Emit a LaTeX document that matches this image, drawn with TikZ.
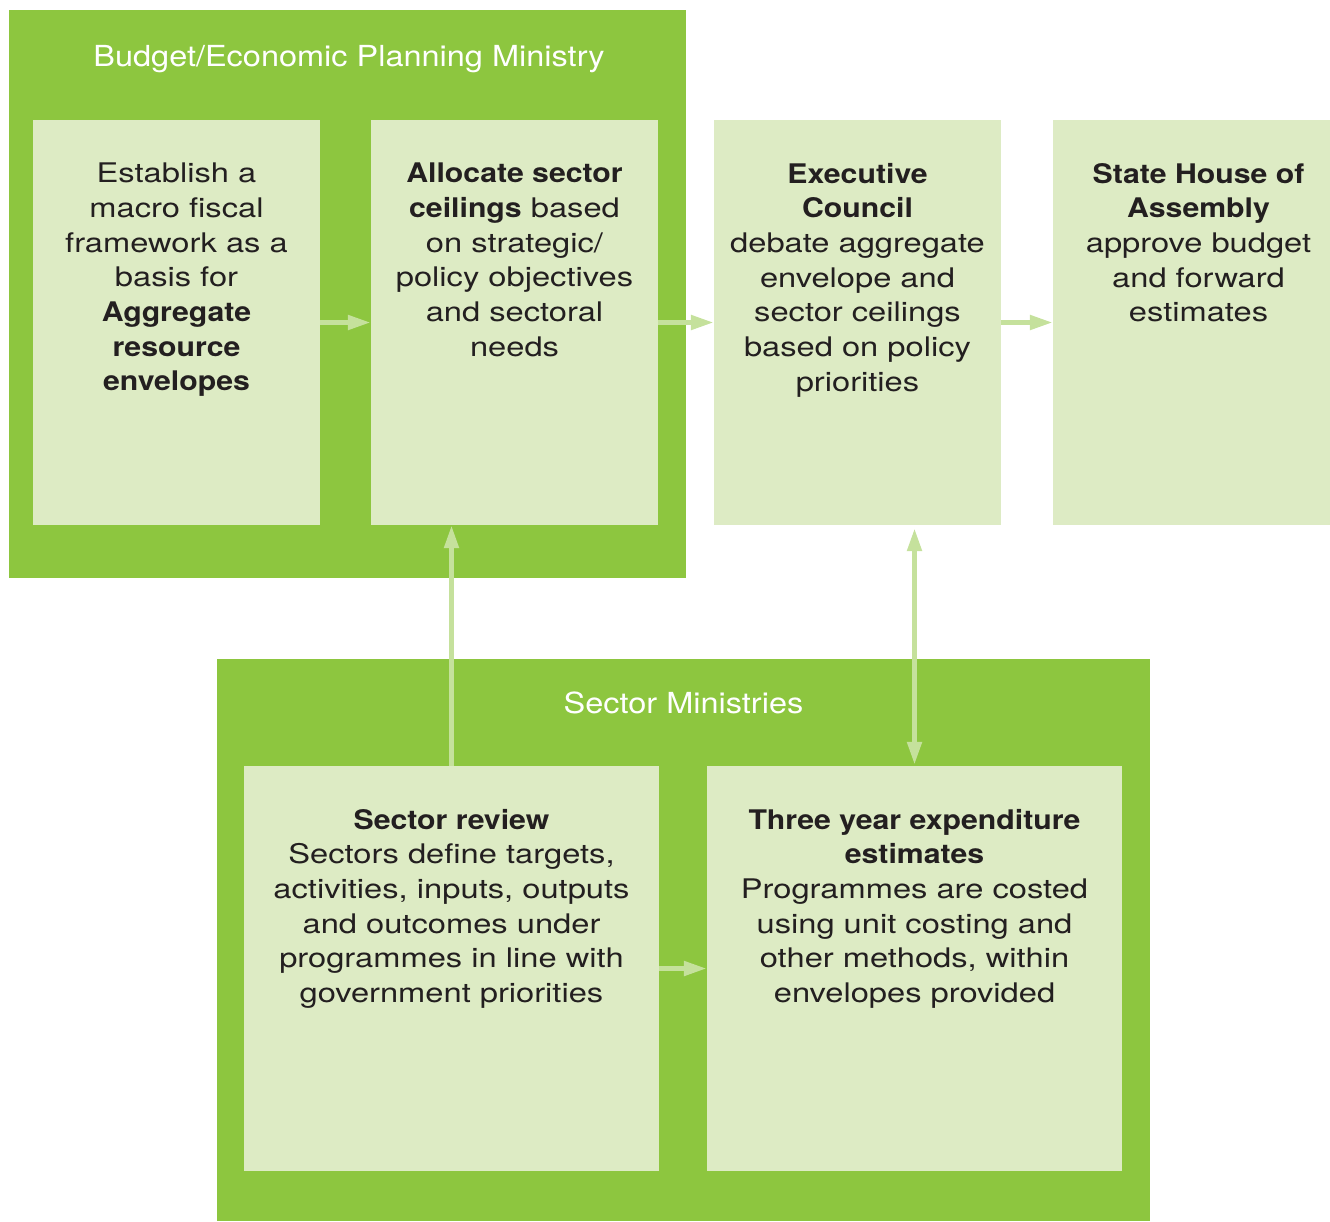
\documentclass[tikz,border=0pt]{standalone}
\usepackage{fontspec}
\setmainfont{TeX Gyre Heros}[FakeStretch=1.12]
\newfontfamily\bodyfont{TeX Gyre Heros}[FakeStretch=1.21,BoldFeatures={FakeStretch=1.12}]
\usetikzlibrary{arrows.meta,calc}
\definecolor{dgreen}{HTML}{8DC63F}
\definecolor{lgreen}{HTML}{DDEBC4}
\definecolor{agreen}{HTML}{C5E19C}
\definecolor{txt}{HTML}{231F20}
\begin{document}
\begin{tikzpicture}[x=1pt,y=-1pt,
  panel/.style={fill=dgreen,draw=none},
  card/.style={fill=lgreen,draw=none},
  cardtext/.style={anchor=north,inner sep=0pt,align=center,text=txt,font=\bodyfont\fontsize{27}{34.7}\selectfont},
  titletext/.style={inner sep=0pt,text=white,font=\fontsize{29}{35}\selectfont},
  flow/.style={draw=agreen,line width=5pt,-{Triangle[length=23pt,width=14pt]}},
  flowboth/.style={draw=agreen,line width=5pt,{Triangle[length=23pt,width=14pt]}-{Triangle[length=23pt,width=14pt]}}
]
\useasboundingbox (0,0) rectangle (1330,1221);
% panels
\fill[panel] (9,10) rectangle (686,578);
\fill[panel] (217,659) rectangle (1150,1221);
\node[titletext] (t1) at (349,59) {Budget/Economic Planning Ministry};
\node[titletext] (t2) at (683.5,703) {Sector Ministries};
% cards
\path[card] (33,120) rectangle (320,525);
\node[inner sep=0pt,minimum width=287pt,minimum height=405pt] (A) at (176.5,322.5) {};
\path[card] (371,120) rectangle (658,525);
\node[inner sep=0pt,minimum width=287pt,minimum height=405pt] (B) at (514.5,322.5) {};
\path[card] (714,120) rectangle (1001,525);
\node[inner sep=0pt,minimum width=287pt,minimum height=405pt] (C) at (857.5,322.5) {};
\path[card] (1053,120) rectangle (1330,525);
\node[inner sep=0pt,minimum width=277pt,minimum height=405pt] (D) at (1191.5,322.5) {};
\path[card] (244,766) rectangle (659,1171);
\node[inner sep=0pt,minimum width=415pt,minimum height=405pt] (E) at (451.5,968.5) {};
\path[card] (707,766) rectangle (1122,1171);
\node[inner sep=0pt,minimum width=415pt,minimum height=405pt] (F) at (914.5,968.5) {};
% texts
\node[cardtext] (At) at ($(A.north)+(0,43)$) {Establish a\\macro fiscal\\framework as a\\basis for\\\textbf{Aggregate}\\\textbf{resource}\\\textbf{envelopes}};
\node[cardtext] (Bt) at ($(B.north)+(0,43)$) {\textbf{Allocate sector}\\\textbf{ceilings} based\\on strategic/\\policy objectives\\and sectoral\\needs};
\node[cardtext] (Ct) at ($(C.north)+(0,43)$) {\textbf{Executive}\\\textbf{Council}\\debate aggregate\\envelope and\\sector ceilings\\based on policy\\priorities};
\node[cardtext] (Dt) at ($(D.north)+(7,43)$) {\textbf{State House of}\\\textbf{Assembly}\\approve budget\\and forward\\estimates};
\node[cardtext] (Et) at ($(E.north)+(0,43)$) {\textbf{Sector review}\\Sectors define targets,\\activities, inputs, outputs\\and outcomes under\\programmes in line with\\government priorities};
\node[cardtext] (Ft) at ($(F.north)+(0,43)$) {\textbf{Three year expenditure}\\\textbf{estimates}\\Programmes are costed\\using unit costing and\\other methods, within\\envelopes provided};
% connectors
\draw[flow] (A.east) -- (B.west);
\draw[flow] (B.east) -- (C.west);
\draw[flow] (C.east) -- (D.west);
\draw[flow] (E.north) -- (E.north |- B.south);
\draw[flowboth] ($(F.north |- C.south)+(0,3)$) -- ($(F.north)+(0,-1)$);
\draw[flow] (E.east) -- (F.west);
\end{tikzpicture}
\end{document}
